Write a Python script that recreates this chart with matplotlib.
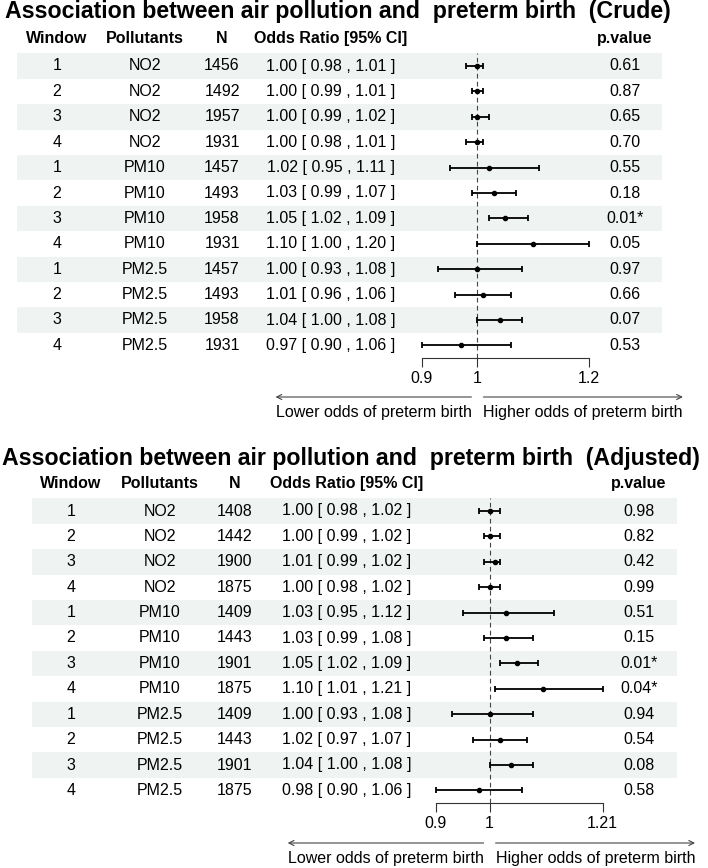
import matplotlib
matplotlib.use("Agg")
import matplotlib.pyplot as plt

plt.rcParams['font.family'] = ['Liberation Sans', 'DejaVu Sans']

W, H = 708, 868

# --- data ---
windows = ["1", "2", "3", "4"] * 3
pollutants = ["NO2"] * 4 + ["PM10"] * 4 + ["PM2.5"] * 4

crude_n = [1456, 1492, 1957, 1931, 1457, 1493, 1958, 1931, 1457, 1493, 1958, 1931]
crude_est = [1.00, 1.00, 1.00, 1.00, 1.02, 1.03, 1.05, 1.10, 1.00, 1.01, 1.04, 0.97]
crude_lo = [0.98, 0.99, 0.99, 0.98, 0.95, 0.99, 1.02, 1.00, 0.93, 0.96, 1.00, 0.90]
crude_hi = [1.01, 1.01, 1.02, 1.01, 1.11, 1.07, 1.09, 1.20, 1.08, 1.06, 1.08, 1.06]
crude_p = ["0.61", "0.87", "0.65", "0.70", "0.55", "0.18", "0.01*", "0.05",
           "0.97", "0.66", "0.07", "0.53"]
crude_ticks = [0.9, 1, 1.2]

adj_n = [1408, 1442, 1900, 1875, 1409, 1443, 1901, 1875, 1409, 1443, 1901, 1875]
adj_est = [1.00, 1.00, 1.01, 1.00, 1.03, 1.03, 1.05, 1.10, 1.00, 1.02, 1.04, 0.98]
adj_lo = [0.98, 0.99, 0.99, 0.98, 0.95, 0.99, 1.02, 1.01, 0.93, 0.97, 1.00, 0.90]
adj_hi = [1.02, 1.02, 1.02, 1.02, 1.12, 1.08, 1.09, 1.21, 1.08, 1.07, 1.08, 1.06]
adj_p = ["0.98", "0.82", "0.42", "0.99", "0.51", "0.15", "0.01*", "0.04*",
         "0.94", "0.54", "0.08", "0.58"]
adj_ticks = [0.9, 1, 1.21]

headers = ["Window", "Pollutants", "N", "Odds Ratio [95% CI]", "p.value"]
arrow_labels = ["Lower odds of preterm birth", "Higher odds of preterm birth"]

BAND = "#eff3f2"
FS = 11.5
ROW_H = 25.4

fig = plt.figure(figsize=(W / 100, H / 100), dpi=100)
renderer = fig.canvas.get_renderer()


def rect(x0, y0, x1, y1):
    # pixel box (top-left origin) -> figure fraction
    return [x0 / W, 1 - y1 / H, (x1 - x0) / W, (y1 - y0) / H]


def panel(title, title_xy, row0, band_x, col_x, forest_x,
          n, est, lo, hi, pv, ticks, arrow_y, label_y):
    nrow = len(est)
    top = row0 - ROW_H / 2
    bot = top + ROW_H * nrow
    rows = list(range(nrow))

    fig.text(title_xy[0] / W, 1 - title_xy[1] / H, title, fontsize=16.7,
             fontweight="bold", va="baseline", ha="left")

    # table part
    tab = fig.add_axes(rect(0, top, W, bot))
    tab.set_xlim(0, W)
    tab.set_ylim(nrow - 0.5, -0.5)
    tab.axis("off")
    tab.barh(rows[::2], band_x[1] - band_x[0], left=band_x[0], height=1,
             color=BAND, zorder=0)

    or_txt = ["%.2f [ %.2f , %.2f ]" % (e, l, h) for e, l, h in zip(est, lo, hi)]
    cols = [windows, pollutants, [str(v) for v in n], or_txt, pv]
    for cx, hdr, vals in zip(col_x, headers, cols):
        tab.text(cx, -1.1, hdr, ha="center", va="center", fontsize=FS,
                 fontweight="bold", clip_on=False)
        for i, v in enumerate(vals):
            tab.text(cx, i, v, ha="center", va="center", fontsize=FS)

    # forest part
    ax = fig.add_axes(rect(forest_x[0], top, forest_x[1], bot))
    ax.set_facecolor("none")
    ax.set_xlim(ticks[0], ticks[-1])
    ax.set_ylim(nrow - 0.5, -0.5)
    ax.axvline(1, color="#444444", lw=0.8, ls=(0, (4.2, 3.0)), zorder=1)
    xerr = [[e - l for e, l in zip(est, lo)], [h - e for e, h in zip(est, hi)]]
    eb = ax.errorbar(est, rows, xerr=xerr, fmt="o", ms=3.0, color="black",
                     ecolor="black", elinewidth=1.3, capsize=2.3, capthick=1.3,
                     zorder=3)
    for art in eb.get_children():
        art.set_clip_on(False)
    for s in ["top", "left", "right"]:
        ax.spines[s].set_visible(False)
    ax.spines["bottom"].set_bounds(ticks[0], ticks[-1])
    ax.spines["bottom"].set_color("#333333")
    ax.spines["bottom"].set_linewidth(0.8)
    ax.set_yticks([])
    ax.set_xticks(ticks)
    ax.set_xticklabels(["%g" % t for t in ticks])
    ax.tick_params(axis="x", direction="out", length=6.5, width=0.8,
                   color="#333333", labelsize=FS, pad=2.5)

    # arrows below the axis
    ref = ax.transData.transform((1, 0))[0]
    yl = H - label_y
    ya = H - arrow_y
    tl = fig.text((ref - 6) / W, yl / H, arrow_labels[0], ha="right",
                  va="center", fontsize=FS)
    tr = fig.text((ref + 6) / W, yl / H, arrow_labels[1], ha="left",
                  va="center", fontsize=FS)
    bl = tl.get_window_extent(renderer)
    br = tr.get_window_extent(renderer)
    ap = dict(arrowstyle="->", lw=0.8, color="#444444", shrinkA=0, shrinkB=0,
              mutation_scale=9)
    ax.annotate("", xy=(bl.x0, ya), xytext=(bl.x1, ya),
                xycoords="figure pixels", textcoords="figure pixels",
                arrowprops=ap, annotation_clip=False)
    ax.annotate("", xy=(br.x1, ya), xytext=(br.x0, ya),
                xycoords="figure pixels", textcoords="figure pixels",
                arrowprops=ap, annotation_clip=False)


panel("Association between air pollution and  preterm birth  (Crude)",
      (5, 18), 66, (17, 662), [57, 145, 222, 331, 625], (421.7, 588.8),
      crude_n, crude_est, crude_lo, crude_hi, crude_p, crude_ticks, 397, 412)

panel("Association between air pollution and  preterm birth  (Adjusted)",
      (2, 465), 511, (32, 677), [71, 160, 235, 347, 639], (435.7, 602.7),
      adj_n, adj_est, adj_lo, adj_hi, adj_p, adj_ticks, 843, 858)

fig.savefig("out.png", dpi=100)
